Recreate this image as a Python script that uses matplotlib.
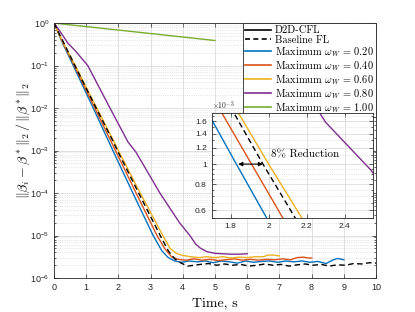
import numpy as np
import matplotlib
matplotlib.use('Agg')
import matplotlib.pyplot as plt
from matplotlib.lines import Line2D
from matplotlib.ticker import FixedLocator, FixedFormatter, LogLocator, NullFormatter

plt.rcParams['font.family'] = ['Liberation Sans', 'DejaVu Sans']
plt.rcParams['mathtext.fontset'] = 'cm'

# time (s) and log10 of relative error
t_blue = [0, 0.3, 0.6, 1.22, 1.83, 2.45, 3.08, 3.35, 3.55, 3.75, 3.95, 4.2, 4.45, 4.7, 4.95, 5.2,
          5.45, 5.7, 5.95, 6.2, 6.45, 6.7, 6.95, 7.2, 7.45, 7.7, 7.95, 8.2, 8.45, 8.65, 8.8, 9.0]
e_blue = [0, -0.52, -1.0, -2.0, -3.0, -4.0, -5.0, -5.36, -5.52, -5.6, -5.63, -5.6, -5.62, -5.6, -5.64, -5.6,
          -5.62, -5.65, -5.6, -5.63, -5.61, -5.6, -5.63, -5.6, -5.62, -5.6, -5.63, -5.61, -5.66, -5.58, -5.54, -5.57]

t_orange = [0, 0.3, 0.63, 1.27, 1.91, 2.55, 3.2, 3.45, 3.65, 3.85, 4.1, 4.35, 4.6, 4.85, 5.1, 5.35,
            5.6, 5.85, 6.1, 6.35, 6.6, 6.85, 7.1, 7.35, 7.55, 7.75, 7.9, 8.0]
e_orange = [0, -0.5, -1.0, -2.0, -3.0, -4.0, -5.0, -5.32, -5.5, -5.56, -5.58, -5.55, -5.58, -5.56, -5.59, -5.57,
            -5.55, -5.58, -5.56, -5.58, -5.56, -5.57, -5.55, -5.57, -5.52, -5.51, -5.53, -5.53]

t_yellow = [0, 0.3, 0.66, 1.33, 1.85, 2.0, 2.68, 3.38, 3.6, 3.8, 4.0, 4.25, 4.5, 4.75, 5.0, 5.25,
            5.5, 5.75, 6.0, 6.25, 6.5, 6.65, 6.8, 7.0]
e_yellow = [0, -0.48, -1.0, -2.0, -2.77, -3.0, -4.0, -5.0, -5.3, -5.42, -5.47, -5.5, -5.52, -5.5, -5.52, -5.5,
            -5.53, -5.51, -5.52, -5.5, -5.5, -5.46, -5.46, -5.48]

t_purple = [0, 0.13, 0.44, 0.65, 1.05, 1.74, 2.3, 2.54, 3.29, 3.9, 4.22, 4.4, 4.55, 4.75, 5.0, 5.25, 5.5, 5.75, 6.0]
e_purple = [0, -0.13, -0.48, -0.64, -1.0, -2.0, -2.8, -3.03, -4.0, -4.7, -5.0, -5.2, -5.3, -5.38, -5.42, -5.43,
            -5.44, -5.44, -5.43]

t_green = [0, 5.0]
e_green = [0, -0.41]

t_base = [0, 0.3, 0.65, 1.31, 1.82, 1.97, 2.63, 3.3, 3.55, 3.75, 3.95, 4.15, 4.35, 4.55, 4.8, 5.05, 5.3,
          5.55, 5.8, 6.05, 6.3, 6.55, 6.8, 7.05, 7.3, 7.55, 7.8, 8.05, 8.3, 8.55, 8.8, 9.05, 9.3, 9.55, 9.8, 10.0]
e_base = [0, -0.46, -1.0, -2.0, -2.76, -3.0, -4.0, -5.0, -5.36, -5.55, -5.65, -5.72, -5.7, -5.68, -5.66, -5.7,
          -5.67, -5.7, -5.68, -5.72, -5.7, -5.67, -5.7, -5.68, -5.72, -5.69, -5.67, -5.7, -5.68, -5.72, -5.69,
          -5.7, -5.66, -5.67, -5.64, -5.65]

omegas = ['0.20', '0.40', '0.60', '0.80', '1.00']
colors = ['#0072BD', '#D95319', '#EDB120', '#7E2F8E', '#77AC30']
series = [(t_blue, e_blue), (t_orange, e_orange), (t_yellow, e_yellow),
          (t_purple, e_purple), (t_green, e_green)]

serif = 'cmr10'
axcol = '#262626'


def style_axes(ax, fs):
    ax.tick_params(which='both', direction='in', top=True, right=True, colors=axcol,
                   labelsize=fs, width=0.5)
    ax.tick_params(which='major', length=3)
    ax.tick_params(which='minor', length=1.6)
    for s in ax.spines.values():
        s.set_color(axcol)
        s.set_linewidth(0.6)


def draw_curves(ax):
    for (t, e), c in zip(series, colors):
        ax.plot(t, 10.0 ** np.array(e), color=c, lw=1.0)
    ax.plot(t_base, 10.0 ** np.array(e_base), color='k', lw=1.0, ls='--', dashes=(4, 2.5))


fig = plt.figure(figsize=(4.15, 3.12), dpi=100)
ax = fig.add_axes([0.130, 0.109, 0.776, 0.817])
ax.set_yscale('log')
draw_curves(ax)
ax.set_xlim(0, 10)
ax.set_ylim(1e-6, 1)
ax.set_xticks(range(0, 11))
ax.yaxis.set_major_locator(LogLocator(base=10, numticks=10))
ax.yaxis.set_minor_locator(LogLocator(base=10, subs=np.arange(2, 10), numticks=10))
ax.yaxis.set_minor_formatter(NullFormatter())
ax.grid(True, which='major', color='#dcdcdc', lw=0.6)
ax.grid(True, which='minor', axis='y', color='#d0d0d0', lw=0.5, ls=':')
ax.set_axisbelow(True)
style_axes(ax, 6.5)
ax.set_xlabel('Time, s', family=serif, fontsize=10, labelpad=4)
fig.text(0.055, 0.55, r'$\Vert\beta_i - \beta^*\Vert_2\,/\,\Vert\beta^*\Vert_2$', fontsize=10,
         rotation=90, ha='center', va='center')

handles = [Line2D([], [], color='k', lw=1.2),
           Line2D([], [], color='k', lw=1.2, ls='--', dashes=(3, 2))]
labels = ['D2D-CFL', 'Baseline FL']
for c, w in zip(colors, omegas):
    handles.append(Line2D([], [], color=c, lw=1.2))
    labels.append(r'Maximum $\omega_W$ = ' + w)
leg = ax.legend(handles, labels, loc='upper right', borderaxespad=0, fancybox=False,
                framealpha=1, edgecolor=axcol, prop={'family': serif, 'size': 7.5},
                handlelength=2.5, handletextpad=0.3, labelspacing=0.02, borderpad=0.25)
leg.get_frame().set_linewidth(0.6)
leg.set_zorder(5)

# zoomed inset
axi = fig.add_axes([0.510, 0.300, 0.389, 0.337])
axi.set_yscale('log')
draw_curves(axi)
axi.set_xlim(1.7, 2.55)
axi.set_ylim(0.55e-3, 1.75e-3)
axi.set_xticks([1.8, 2.0, 2.2, 2.4])
axi.set_xticklabels(['1.8', '2', '2.2', '2.4'])
yt = [0.6e-3, 0.8e-3, 1.0e-3, 1.2e-3, 1.4e-3, 1.6e-3]
axi.yaxis.set_major_locator(FixedLocator(yt))
axi.yaxis.set_major_formatter(FixedFormatter(['0.6', '0.8', '1', '1.2', '1.4', '1.6']))
axi.yaxis.set_minor_locator(FixedLocator([0.55e-3, 0.65e-3, 0.7e-3, 0.75e-3, 0.85e-3, 0.9e-3, 0.95e-3,
                                          1.1e-3, 1.3e-3, 1.5e-3, 1.7e-3]))
axi.yaxis.set_minor_formatter(NullFormatter())
axi.grid(True, which='major', color='#dcdcdc', lw=0.6)
axi.grid(True, which='minor', axis='y', color='#d0d0d0', lw=0.5, ls=':')
axi.set_axisbelow(True)
style_axes(axi, 6)
axi.text(0.0, 1.01, r'$\times10^{-3}$', transform=axi.transAxes, fontsize=5.5,
         color=axcol, ha='left', va='bottom')
axi.annotate('', xy=(1.97, 1e-3), xytext=(1.84, 1e-3),
             arrowprops=dict(arrowstyle='<|-|>', color='k', lw=0.8, mutation_scale=6,
                             shrinkA=0, shrinkB=0))
axi.text(2.19, 1.11e-3, '8% Reduction', family=serif, fontsize=8, ha='center', va='center')

fig.savefig('out.png', dpi=100)
